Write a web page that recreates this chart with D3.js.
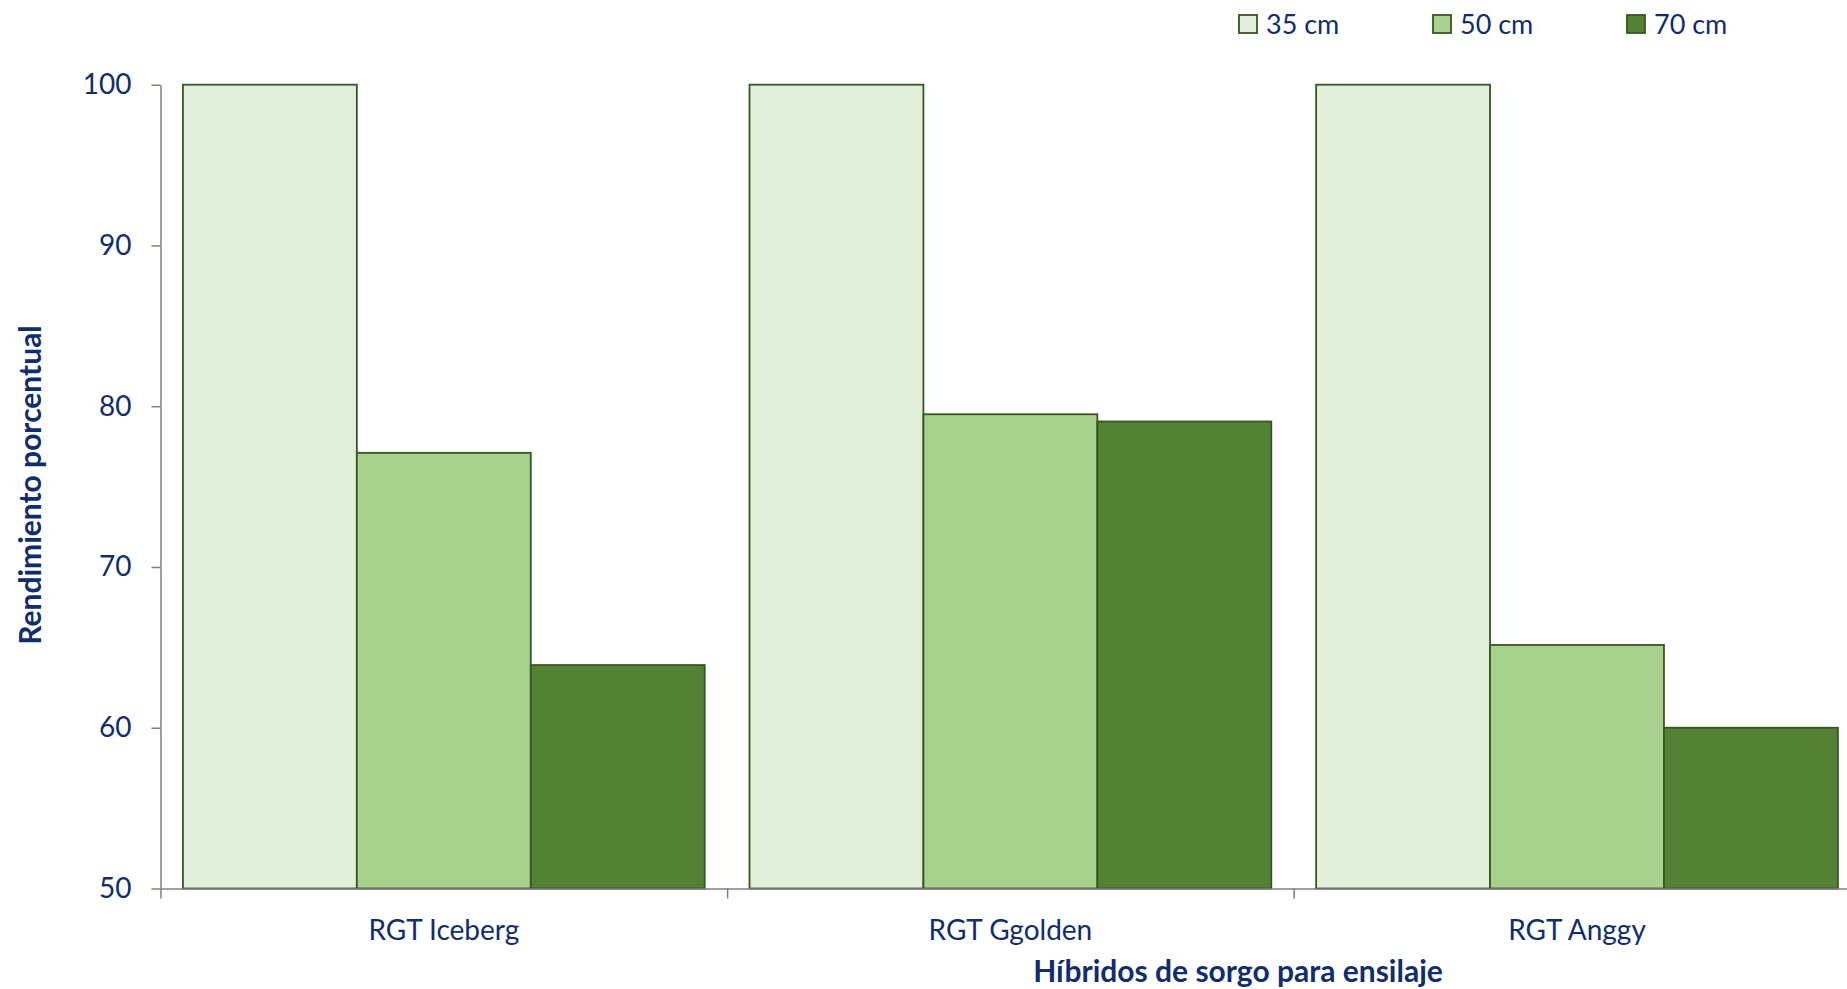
<!DOCTYPE html>
<html>
<head>
<meta charset="utf-8">
<script src="https://cdn.jsdelivr.net/npm/d3@7"></script>
<style>
body { margin: 0; background: #fff; }
text { font-family: Lato, "Open Sans", sans-serif; fill: #112d6b; }
</style>
</head>
<body>
<div class="canva"></div>
<script>
// data
const hybrids = ["RGT Iceberg", "RGT Ggolden", "RGT Anggy"];
const series = ["35 cm", "50 cm", "70 cm"];
const v35 = [100, 100, 100];
const v50 = [77.1, 79.5, 65.15];
const v70 = [63.9, 79.05, 60.0];
const yTicks = [50, 60, 70, 80, 90, 100];
const colors = ["#e2efda", "#a9d18e", "#548235"];

const values = [v35, v50, v70];
const W = 1847, H = 989;

const svg = d3.select(".canva").append("svg")
  .attr("width", W)
  .attr("height", H);

// plot area (the right end runs past the picture, as in the original)
const plotLeft = 160.5, catW = 566.6;
const plotTop = 84.7, plotBottom = 888.5;

const x0 = d3.scaleBand()
  .domain(hybrids)
  .range([plotLeft, plotLeft + catW * hybrids.length]);

const x1 = d3.scaleBand()
  .domain(series)
  .range([22.4, catW - 22.4]);

const y = d3.scaleLinear()
  .domain([50, 100])
  .range([plotBottom, plotTop]);

// bars
const groups = svg.selectAll("g.cat")
  .data(hybrids)
  .enter().append("g")
  .attr("class", "cat")
  .attr("transform", d => `translate(${x0(d)},0)`);

groups.selectAll("rect")
  .data((d, i) => series.map((s, j) => ({ s: s, v: values[j][i], c: colors[j] })))
  .enter().append("rect")
  .attr("x", d => x1(d.s))
  .attr("y", d => y(d.v))
  .attr("width", x1.bandwidth())
  .attr("height", d => plotBottom - y(d.v))
  .attr("fill", d => d.c)
  .attr("stroke", "#375623")
  .attr("stroke-width", 1.8);

// y axis
const yAxis = svg.append("g")
  .attr("transform", `translate(${plotLeft},0)`)
  .call(d3.axisLeft(y).tickValues(yTicks).tickSize(9).tickSizeOuter(0).tickPadding(20));
yAxis.select(".domain").attr("stroke", "#808080").attr("stroke-width", 1.5);
yAxis.selectAll(".tick line").attr("stroke", "#808080").attr("stroke-width", 1.5);
yAxis.selectAll(".tick text")
  .attr("font-size", 28)
  .style("font-family", "Lato, sans-serif")
  .attr("fill", "#112d6b");

// x axis: boundary ticks
const xb = d3.scaleLinear().domain([0, hybrids.length]).range(x0.range());
const xAxis = svg.append("g")
  .attr("transform", `translate(0,${plotBottom})`)
  .call(d3.axisBottom(xb).tickValues(d3.range(hybrids.length + 1)).tickFormat("").tickSize(10).tickSizeOuter(0));
xAxis.select(".domain").attr("stroke", "#808080").attr("stroke-width", 1.5);
xAxis.selectAll(".tick line").attr("stroke", "#808080").attr("stroke-width", 1.5);

// x axis: category labels
const xLab = svg.append("g")
  .attr("transform", `translate(0,${plotBottom})`)
  .call(d3.axisBottom(x0).tickSize(0).tickPadding(32));
xLab.select(".domain").remove();
xLab.selectAll(".tick text")
  .attr("font-size", 28)
  .style("font-family", "Lato, sans-serif")
  .attr("fill", "#112d6b");

// axis titles
svg.append("text")
  .text("Híbridos de sorgo para ensilaje")
  .attr("x", 1238)
  .attr("y", 982)
  .attr("text-anchor", "middle")
  .attr("font-size", 30)
  .attr("font-weight", "bold");

svg.append("text")
  .text("Rendimiento porcentual")
  .attr("transform", "translate(41,485) rotate(-90)")
  .attr("text-anchor", "middle")
  .attr("font-size", 30)
  .attr("font-weight", "bold");

// legend
const legX = [1239, 1433, 1627];
const leg = svg.selectAll("g.leg")
  .data(series)
  .enter().append("g")
  .attr("class", "leg")
  .attr("transform", (d, i) => `translate(${legX[i]},15)`);

leg.append("rect")
  .attr("width", 18)
  .attr("height", 18)
  .attr("fill", (d, i) => colors[i])
  .attr("stroke", "#375623")
  .attr("stroke-width", 1.8);

leg.append("text")
  .text(d => d)
  .attr("x", 27)
  .attr("y", 19)
  .attr("font-size", 27);
</script>
</body>
</html>
